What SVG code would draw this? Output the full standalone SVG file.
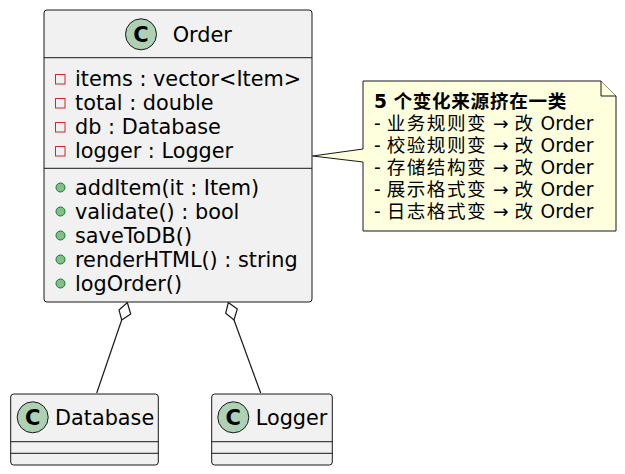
<svg xmlns="http://www.w3.org/2000/svg" width="625" height="474" viewBox="0 0 625 474">
<style>
.box{fill:#F1F1F1;stroke:#181818;stroke-width:1}
.div{stroke:#181818;stroke-width:1}
.ci{fill:#ADD1B2;stroke:#181818;stroke-width:1}
.cg{font-family:"DejaVu Sans","Liberation Sans",sans-serif;font-weight:bold;font-size:21px;fill:#000;text-anchor:middle}
.t{font-family:"DejaVu Sans","Liberation Sans",sans-serif;font-size:20.8px;fill:#000}
.priv{fill:none;stroke:#C82930;stroke-width:1}
.pub{fill:#84BE84;stroke:#038048;stroke-width:1}
.note{fill:#FEFFDD;stroke:#181818;stroke-width:1}
.nt{font-family:"DejaVu Sans","Noto Sans CJK SC",sans-serif;font-size:18.6px;fill:#000}
.cj{letter-spacing:1.5px}
.cb{letter-spacing:0.7px}
.conn{stroke:#181818;stroke-width:1.2;fill:none}
.dia{fill:#FFFFFF;stroke:#181818;stroke-width:1.2}
</style>
<g id="connectors">
<line class="conn" x1="121.7" y1="320" x2="96.7" y2="393"/>
<polygon class="dia" points="127.3,302.5 130.7,314 121.7,320 119,310"/>
<line class="conn" x1="234" y1="320" x2="260.7" y2="393"/>
<polygon class="dia" points="228.3,302.5 237.3,309 234,320 225.7,313.3"/>
</g>
<g id="Order">
<rect class="box" x="44" y="10" width="268" height="292" rx="3"/>
<line class="div" x1="44" y1="57.7" x2="312" y2="57.7"/>
<line class="div" x1="44" y1="168.3" x2="312" y2="168.3"/>
<circle class="ci" cx="141" cy="34.3" r="15.5"/>
<text class="cg" x="141" y="42">C</text>
<text class="t" x="172.7" y="41.5">Order</text>
<rect class="priv" x="55.5" y="74.5" width="9.5" height="9.5"/>
<text class="t" x="75" y="85.5">items : vector&lt;Item&gt;</text>
<rect class="priv" x="55.5" y="98.5" width="9.5" height="9.5"/>
<text class="t" x="75" y="109.5">total : double</text>
<rect class="priv" x="55.5" y="122.5" width="9.5" height="9.5"/>
<text class="t" x="75" y="133.5">db : Database</text>
<rect class="priv" x="55.5" y="146.5" width="9.5" height="9.5"/>
<text class="t" x="75" y="157.5">logger : Logger</text>
<circle class="pub" cx="60.5" cy="187.5" r="4.5"/>
<text class="t" x="75" y="194.8">addItem(it : Item)</text>
<circle class="pub" cx="60.5" cy="211.5" r="4.5"/>
<text class="t" x="75" y="218.8">validate() : bool</text>
<circle class="pub" cx="60.5" cy="235.5" r="4.5"/>
<text class="t" x="75" y="242.8">saveToDB()</text>
<circle class="pub" cx="60.5" cy="259.5" r="4.5"/>
<text class="t" x="75" y="266.8">renderHTML() : string</text>
<circle class="pub" cx="60.5" cy="283.5" r="4.5"/>
<text class="t" x="75" y="290.8">logOrder()</text>
</g>
<g id="Database">
<rect class="box" x="10.7" y="394" width="147.6" height="71" rx="3"/>
<line class="div" x1="10.7" y1="441.7" x2="158.3" y2="441.7"/>
<line class="div" x1="10.7" y1="453.3" x2="158.3" y2="453.3"/>
<circle class="ci" cx="32.7" cy="417.3" r="15.5"/>
<text class="cg" x="32.7" y="425">C</text>
<text class="t" x="55" y="424.5">Database</text>
</g>
<g id="Logger">
<rect class="box" x="211.7" y="394" width="120.6" height="71" rx="3"/>
<line class="div" x1="211.7" y1="441.7" x2="332.3" y2="441.7"/>
<line class="div" x1="211.7" y1="453.3" x2="332.3" y2="453.3"/>
<circle class="ci" cx="233.3" cy="417.3" r="15.5"/>
<text class="cg" x="233.3" y="425">C</text>
<text class="t" x="255.7" y="424.5">Logger</text>
</g>
<g id="note">
<path class="note" d="M363,81 L601,81 L616,96 L616,231 L363,231 L363,162 L312.5,156 L363,149 Z"/>
<path class="note" d="M601,81 L601,96 L616,96"/>
<text class="nt" x="374" y="108" font-weight="bold">5 <tspan class="cb">个变化来源挤在一类</tspan></text>
<text class="nt" x="374" y="130">- <tspan class="cj">业务规则变</tspan> → <tspan class="cj">改</tspan> Order</text>
<text class="nt" x="374" y="152">- <tspan class="cj">校验规则变</tspan> → <tspan class="cj">改</tspan> Order</text>
<text class="nt" x="374" y="174">- <tspan class="cj">存储结构变</tspan> → <tspan class="cj">改</tspan> Order</text>
<text class="nt" x="374" y="196">- <tspan class="cj">展示格式变</tspan> → <tspan class="cj">改</tspan> Order</text>
<text class="nt" x="374" y="218">- <tspan class="cj">日志格式变</tspan> → <tspan class="cj">改</tspan> Order</text>
</g>
</svg>
